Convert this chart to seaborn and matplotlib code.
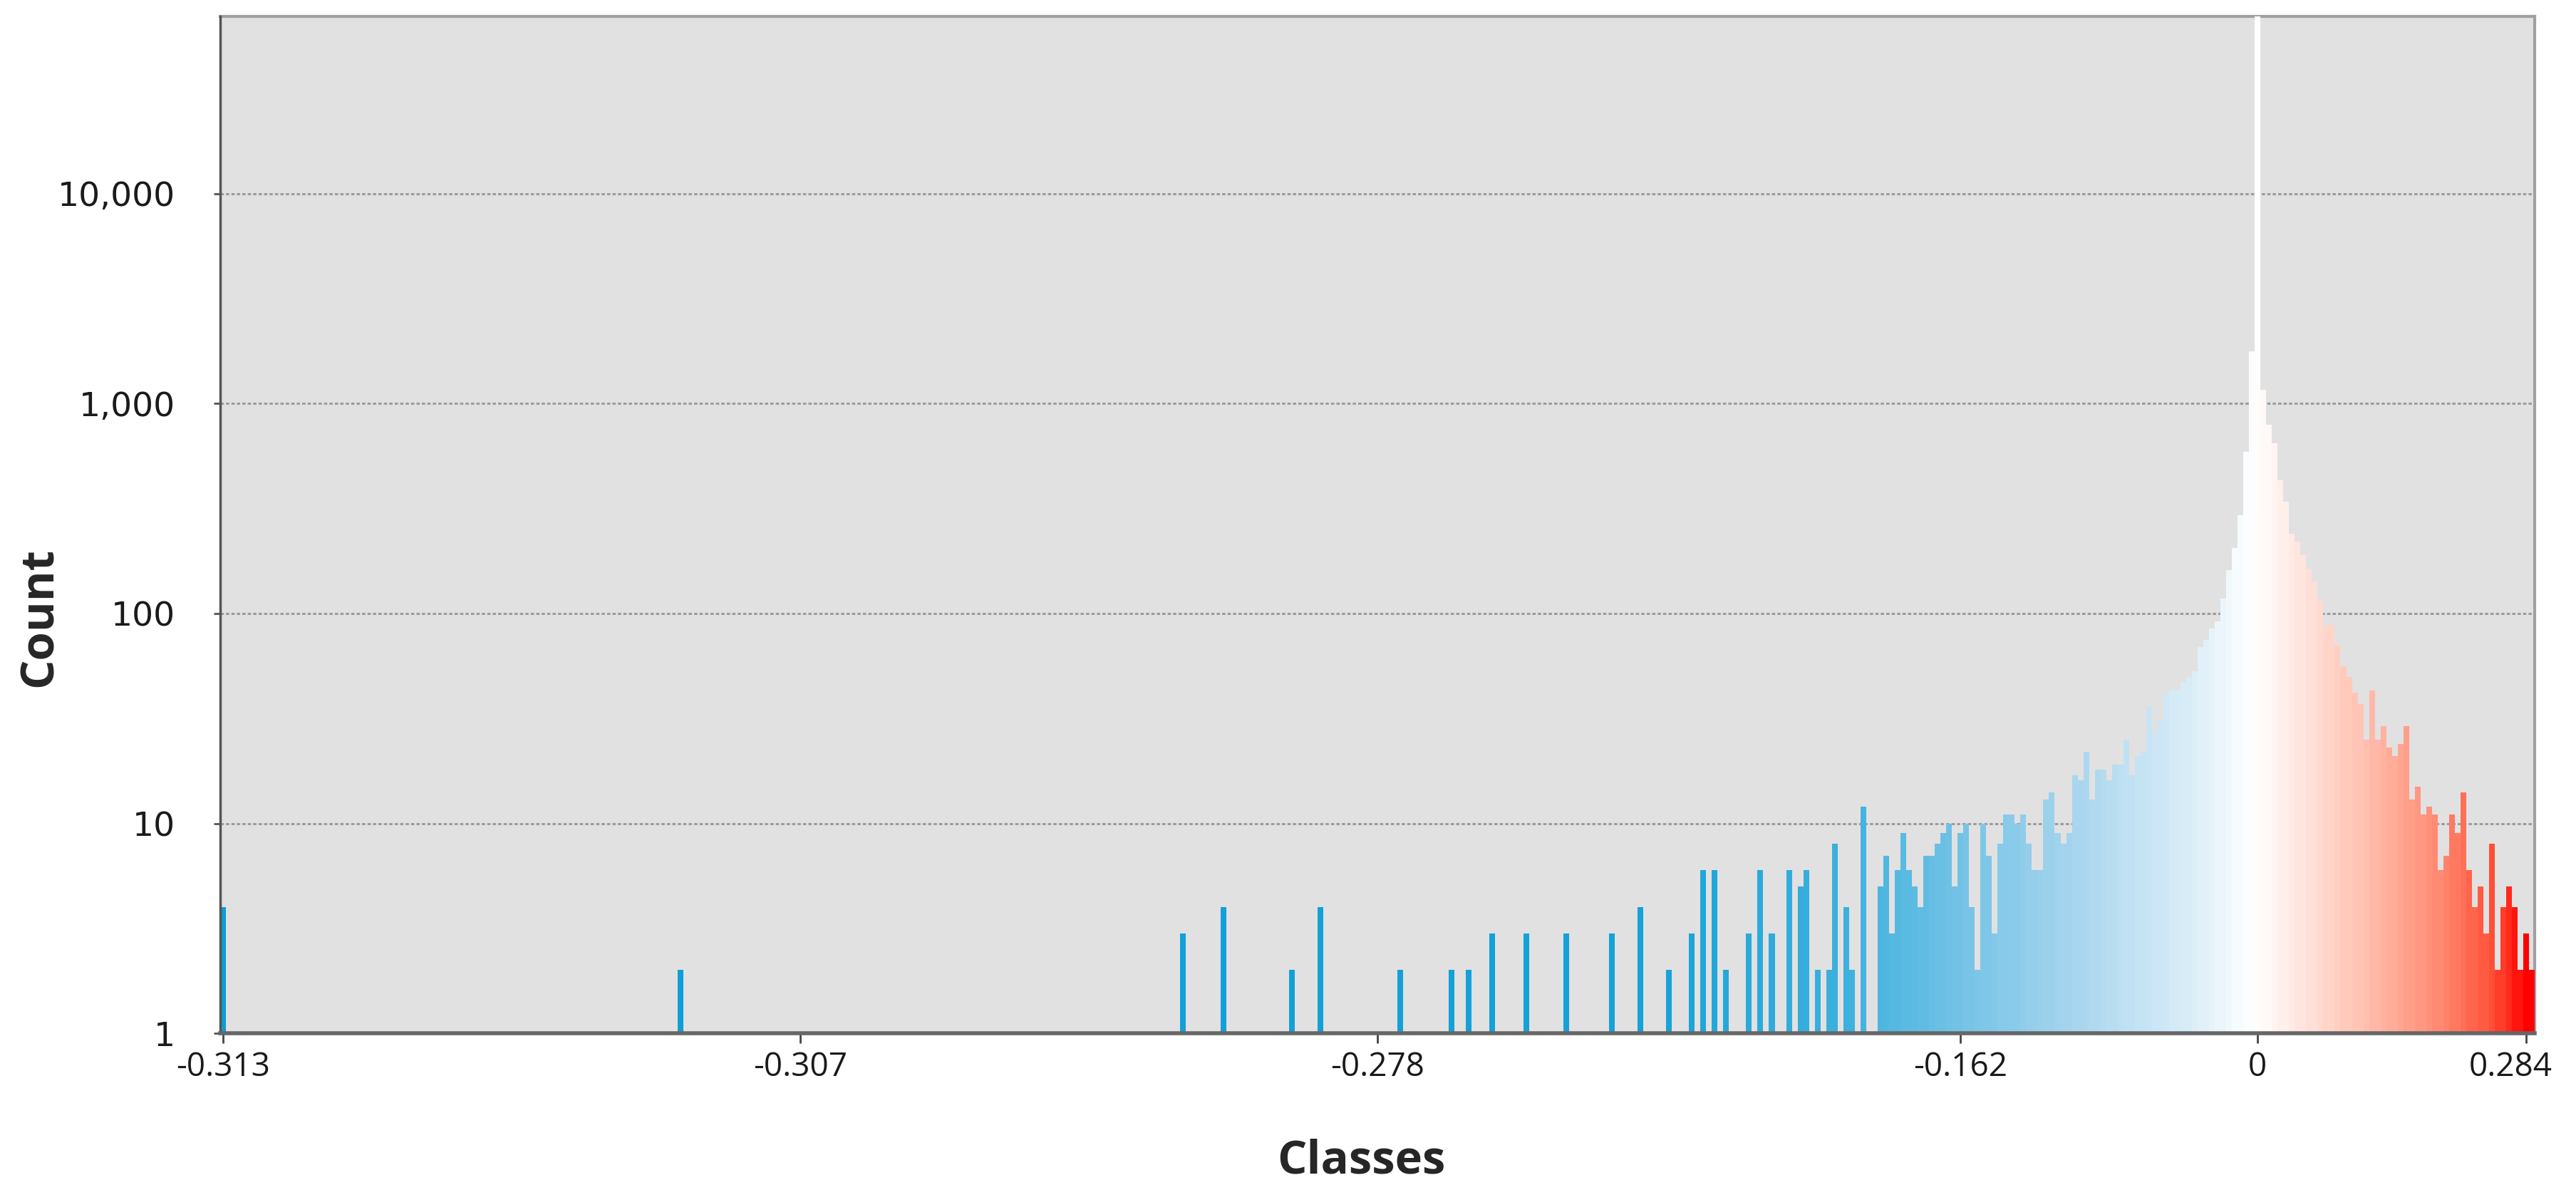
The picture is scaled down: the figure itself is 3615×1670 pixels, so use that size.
import numpy as np
import pandas as pd
import matplotlib
matplotlib.use("Agg")
import matplotlib.pyplot as plt
from matplotlib.colors import LinearSegmentedColormap
from matplotlib.ticker import FuncFormatter, NullLocator, FixedLocator
from matplotlib.transforms import ScaledTranslation
import seaborn as sns

# ---------------------------------------------
# Data: histogram classes (index) and counts
# ---------------------------------------------
n_classes = 405

# isolated classes on the left tail
sparse_class = [0, 80, 168, 175, 187, 192, 206, 215, 218, 222, 228, 235, 243,
                248, 253, 257, 259, 261, 263, 267, 269, 271, 274, 276, 277,
                279, 281, 282, 284, 285, 287, 290, 291, 292]
sparse_count = [4, 2, 3, 4, 2, 4, 2, 2, 2, 3, 3, 3, 3,
                4, 2, 3, 6, 6, 2, 3, 6, 3, 6, 5, 6,
                2, 2, 8, 4, 2, 12, 5, 7, 3]

# contiguous classes from index 293 to the end
dense_first = 293
dense_count = [6, 9, 6, 5, 4, 7, 7, 8, 9, 10,
               5, 9, 10, 4, 2, 10, 7, 3, 8, 11,
               11, 10, 11, 8, 6, 6, 13, 14, 9, 8,
               9, 17, 16, 22, 13, 18, 18, 16, 19, 19,
               25, 17, 21, 22, 36, 27, 31, 42, 43, 43,
               47, 50, 53, 69, 75, 85, 92, 118, 161, 205,
               294, 590, 1780, 150000,
               1160, 792, 646, 431, 340, 240, 220, 190, 164, 142,
               116, 87, 89, 71, 56, 50, 42, 37, 25, 43,
               25, 29, 23, 21, 24, 29, 13, 15, 11, 12,
               11, 6, 7, 11, 9, 14, 6, 4, 5, 3,
               8, 2, 4, 5, 4, 2, 3, 2]

tick_class = [0, 101, 202, 304, 356, 403]
tick_labels = ["-0.313", "-0.307", "-0.278", "-0.162", "0", "0.284"]

counts = np.zeros(n_classes)
counts[sparse_class] = sparse_count
counts[dense_first:dense_first + len(dense_count)] = dense_count

df = pd.DataFrame({"cls": np.arange(n_classes), "count": counts})

# blue -> white -> red ramp along the classes
ramp = LinearSegmentedColormap.from_list("ramp", [
    (0.0, "#0b9dd5"), (250 / 404, "#14a2d8"), (285 / 404, "#3fb1de"),
    (304 / 404, "#72c2e6"), (325 / 404, "#a9d6ee"), (345 / 404, "#dbedf8"),
    (356 / 404, "#ffffff"), (366 / 404, "#ffe0d8"), (378 / 404, "#ffb5a3"),
    (390 / 404, "#ff826a"), (398 / 404, "#ff4d35"), (1.0, "#ff0000")])
palette = {c: ramp(c / (n_classes - 1)) for c in df["cls"]}

# ---------------------------------------------
# Plot
# ---------------------------------------------
sns.set_style("white")
plt.rcParams["font.family"] = ["DejaVu Sans"]

fig = plt.figure(figsize=(36.15, 16.7), dpi=100)
ax = fig.add_axes([0.0855, 0.1317, 0.8985, 0.8545])
ax.set_facecolor("#e1e1e1")
ax.set_yscale("log")

sns.barplot(data=df, x="cls", y="count", hue="cls", palette=palette,
            legend=False, width=1.0, linewidth=0, saturation=1, ax=ax)

ax.set_ylim(1, 10 ** 4.845)
ax.set_xlim(-0.5, n_classes - 0.5)

# grid and spines
ax.set_axisbelow(True)
ax.yaxis.grid(True, color="#9c9c9c", linestyle=(0, (1.5, 1)), linewidth=2.2)
ax.xaxis.grid(False)
for side in ["top", "right"]:
    ax.spines[side].set_color("#a0a0a0")
    ax.spines[side].set_linewidth(3)
    ax.spines[side].set_zorder(0.6)
ax.spines["left"].set_color("#555555")
ax.spines["left"].set_linewidth(2.5)
ax.spines["bottom"].set_color("#666666")
ax.spines["bottom"].set_linewidth(4)

# ticks
ax.yaxis.set_major_locator(FixedLocator([1, 10, 100, 1000, 10000]))
ax.yaxis.set_minor_locator(NullLocator())
ax.yaxis.set_major_formatter(FuncFormatter(lambda v, p: f"{v:,.0f}"))
ax.tick_params(axis="y", which="major", left=True, length=6.5, width=2,
               color="#555555", pad=39, labelsize=34, labelcolor="#1a1a1a")

ax.set_xticks(tick_class)
ax.set_xticklabels(tick_labels, fontfamily="Open Sans")
ax.tick_params(axis="x", bottom=True, length=10, width=2, color="#444444",
               pad=8, labelsize=33, labelcolor="#1a1a1a")
# last label sits a little left of its tick, as in the original
last = ax.get_xticklabels()[-1]
last.set_transform(last.get_transform() + ScaledTranslation(-0.22, 0, fig.dpi_scale_trans))

ax.set_xlabel("Classes", fontfamily="Open Sans", fontweight="bold",
              fontsize=47, va="center")
ax.xaxis.set_label_coords(0.493, -0.126)
ax.set_ylabel("Count", fontfamily="Open Sans", fontweight="bold",
              fontsize=47, va="center", ha="center")
ax.yaxis.set_label_coords(-0.0779, 0.409)

fig.savefig("out.png", dpi=100, facecolor="white")
